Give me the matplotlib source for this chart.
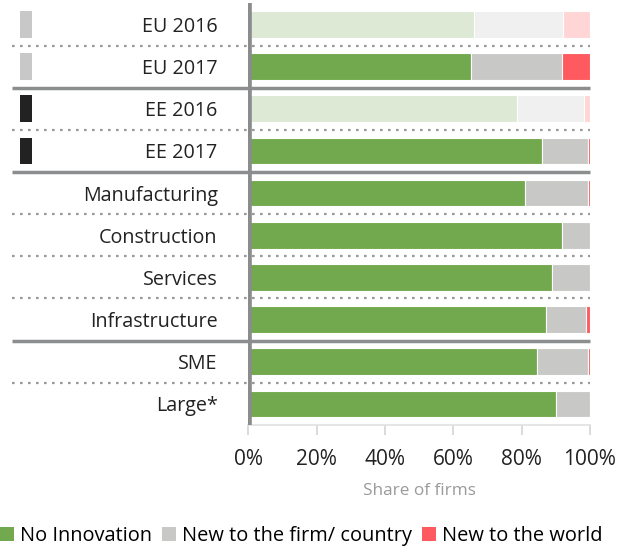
import numpy as np
import matplotlib
matplotlib.use("Agg")
import matplotlib.pyplot as plt
from matplotlib.ticker import FuncFormatter

plt.rcParams["font.family"] = ["Open Sans", "DejaVu Sans"]

categories = ["EU 2016", "EU 2017", "EE 2016", "EE 2017", "Manufacturing",
              "Construction", "Services", "Infrastructure", "SME", "Large*"]
no_innovation = [66.1, 65.1, 78.6, 86.0, 81.0, 91.8, 88.9, 87.0, 84.5, 90.1]
new_to_firm = [26.0, 26.7, 19.6, 13.5, 18.5, 8.2, 11.1, 11.8, 14.9, 9.9]
new_to_world = [7.9, 8.2, 1.8, 0.5, 0.5, 0.0, 0.0, 1.2, 0.6, 0.0]
series_names = ["No Innovation", "New to the firm/ country", "New to the world"]

faded_rows = ["EU 2016", "EE 2016"]
marker_colors = {"EU 2016": "#c8c8c8", "EU 2017": "#c8c8c8",
                 "EE 2016": "#222222", "EE 2017": "#222222"}
solid_after = [1, 3, 7]

colors = ["#72a94f", "#c8c8c6", "#ff5a5f"]
faded = ["#dde8d5", "#f0f0f0", "#ffd5d5"]

fig = plt.figure(figsize=(6.3, 5.54), dpi=100)
ax = fig.add_axes([0.394, 0.2329, 0.5424, 0.761])

y = np.arange(len(categories))
left = np.zeros(len(categories))
for vals, col, fcol, name in zip([no_innovation, new_to_firm, new_to_world],
                                 colors, faded, series_names):
    cs = [fcol if c in faded_rows else col for c in categories]
    ax.barh(y, vals, left=left, height=0.63, color=cs, edgecolor="white",
            linewidth=0.8, label=name)
    left += np.array(vals)

# little row markers on the far left
for i, c in enumerate(categories):
    if c in marker_colors:
        ax.barh(i, 3.5, left=-66.8, height=0.63, color=marker_colors[c],
                clip_on=False)

# row separators
for k in range(len(categories) - 1):
    yy = k + 0.5
    if k in solid_after:
        ax.plot([-69, 100], [yy, yy], color="#8c8d8f", lw=2.5,
                solid_capstyle="butt", clip_on=False, zorder=3)
    else:
        ax.plot([-69, 100], [yy, yy], color="#9a9a9a", lw=1.6,
                linestyle=(0, (1.2, 2.4)), clip_on=False, zorder=3)

ax.axvline(0, color="#8a8c8e", lw=5.5, zorder=4)

ax.set_xlim(0, 100)
ax.set_ylim(len(categories) - 0.5, -0.5)
ax.set_yticks(y)
ax.set_yticklabels(categories, fontsize=14.2, color="#222222")
ax.tick_params(axis="y", length=0, pad=22)
ax.set_xticks([0, 20, 40, 60, 80, 100])
ax.xaxis.set_major_formatter(FuncFormatter(lambda v, p: f"{v:.0f}%"))
ax.tick_params(axis="x", length=7, color="#d4d4d4", width=1.2, pad=10,
               labelsize=15, labelcolor="#222222")
for s in ["top", "right", "left"]:
    ax.spines[s].set_visible(False)
ax.spines["bottom"].set_color("#e0e0e0")
ax.spines["bottom"].set_linewidth(1.2)
ax.set_xlabel("Share of firms", fontsize=12.3, color="#9a9a9a", labelpad=10)

handles, labels = ax.get_legend_handles_labels()
leg = fig.legend(handles[:3], labels[:3], loc="lower left",
                 bbox_to_anchor=(-0.012, 0.0), ncol=3, frameon=False,
                 fontsize=14.4, handlelength=0.7, handleheight=0.7,
                 handletextpad=0.3, columnspacing=0.5, borderaxespad=0)
for h, col in zip(leg.legend_handles, colors):
    h.set_color(col)
    h.set_edgecolor("none")

fig.savefig("out.png", dpi=100)
